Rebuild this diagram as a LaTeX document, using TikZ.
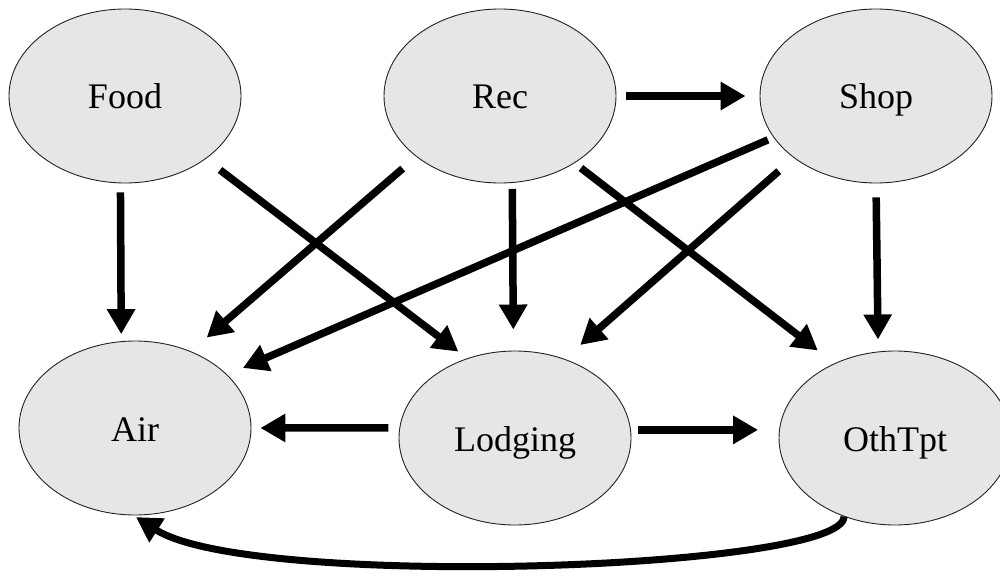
\documentclass[tikz,border=0pt]{standalone}
\usepackage{fontspec}
\setmainfont{Liberation Serif}
\usetikzlibrary{shapes.geometric,arrows.meta}
\definecolor{cloud}{RGB}{230,230,230}
\definecolor{ink}{RGB}{35,35,35}

\begin{document}
\begin{tikzpicture}[x=1pt,y=-1pt,
    spend/.style={ellipse, draw=ink, line width=0.9pt, fill=cloud,
                  minimum width=232pt, minimum height=174pt, inner sep=0pt,
                  text height=28pt, text depth=2pt,
                  font=\fontsize{36}{40}\selectfont},
    flow/.style={line width=7.5pt, -{Triangle[length=25pt,width=27pt]}}]
            \useasboundingbox (0,0) rectangle (1000,575);
            % spending categories
            \node[spend] (food)    at (125, 96) {Food};
            \node[spend] (rec)     at (500, 96) {Rec};
            \node[spend] (shop)    at (876, 96) {Shop};
            \node[spend] (air)     at (135,428) {Air};
            \node[spend] (lodging) at (515,438) {Lodging};
            \node[spend] (othtpt)  at (895,438) {OthTpt};
            % links between categories
            \draw[flow, shorten <=10pt, shorten >=14pt] (rec.east)     -- (shop.west);
            \draw[flow, shorten <= 9pt, shorten >= 7pt] (food.-93)     -- (air.99);
            \draw[flow, shorten <=18pt, shorten >=11pt] (food.-38)     -- (lodging.121);
            \draw[flow, shorten <=18pt, shorten >=21pt] (rec.216)      -- (air.54);
            \draw[flow, shorten <= 6pt, shorten >=21pt] (rec.-82)      -- (lodging.91);
            \draw[flow, shorten <= 8pt, shorten >=21pt] (rec.-42)      -- (othtpt.129);
            \draw[flow, shorten <= 6pt, shorten >=17pt] (shop.202)     -- (air.30);
            \draw[flow, shorten <=20pt, shorten >=21pt] (shop.217)     -- (lodging.58);
            \draw[flow, shorten <=14pt, shorten >=12pt] (shop.south)   -- (othtpt.101);
            \draw[flow, shorten <=11pt, shorten >= 9pt] (lodging.175)  -- (air.east);
            \draw[flow, shorten <= 7pt, shorten >=21pt] (lodging.4)    -- (othtpt.176);
            \draw[flow, line width=7pt, shorten >=3pt]  (othtpt.-123)  .. controls (845,570) and (250,590) .. (air.-91);
\end{tikzpicture}
\end{document}
